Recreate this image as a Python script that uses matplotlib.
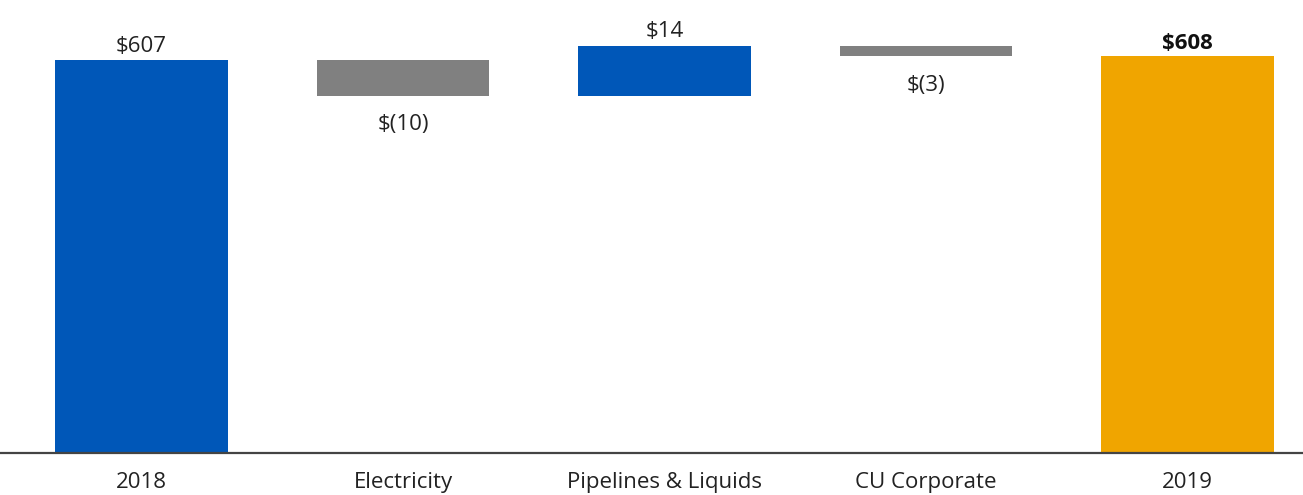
import numpy as np
import matplotlib.pyplot as plt

plt.rcParams['font.family'] = ['Open Sans', 'DejaVu Sans']

categories = ['2018', 'Electricity', 'Pipelines & Liquids', 'CU Corporate', '2019']
start_total = 607
changes = [-10, 14, -3]
end_total = 608
labels = ['$607', '$(10)', '$14', '$(3)', '$608']

blue = '#0057B8'
grey = '#808080'
gold = '#F0A500'
fs = 16

fig = plt.figure(figsize=(13.03, 4.95), dpi=100)
ax = fig.add_axes([0, 0.0848, 1, 0.9152])

x = np.arange(len(categories))
w = 0.66

# totals drawn from zero, clipped by the y range
ax.bar(x[0], start_total, width=w, color=blue)
ax.bar(x[-1], end_total, width=w, color=gold)

level = start_total
for i, d in enumerate(changes, start=1):
    bottom = level + min(d, 0)
    ax.bar(x[i], abs(d), bottom=bottom, width=w, color=blue if d > 0 else grey)
    if d > 0:
        ax.annotate(labels[i], (x[i], level + d), xytext=(0, 3), textcoords='offset points',
                    ha='center', va='bottom', fontsize=fs, color='#222222')
    else:
        ax.annotate(labels[i], (x[i], bottom), xytext=(0, -13), textcoords='offset points',
                    ha='center', va='top', fontsize=fs, color='#222222')
    level += d

ax.annotate(labels[0], (x[0], start_total), xytext=(0, 2), textcoords='offset points',
            ha='center', va='bottom', fontsize=fs, color='#222222')
ax.annotate(labels[-1], (x[-1], end_total), xytext=(0, 2), textcoords='offset points',
            ha='center', va='bottom', fontsize=fs, fontweight='bold', color='#111111')

ax.set_ylim(497.8, 623.7)
ax.set_xlim(-0.541, 4.442)
ax.set_xticks(x)
ax.set_xticklabels(categories, fontsize=fs, color='#222222')
ax.tick_params(axis='x', length=0, pad=14)
ax.set_yticks([])
for s in ['top', 'left', 'right']:
    ax.spines[s].set_visible(False)
ax.spines['bottom'].set_color('#444444')
ax.spines['bottom'].set_linewidth(1.6)
ax.spines['bottom'].set_zorder(5)

fig.savefig('out.png', dpi=100)
